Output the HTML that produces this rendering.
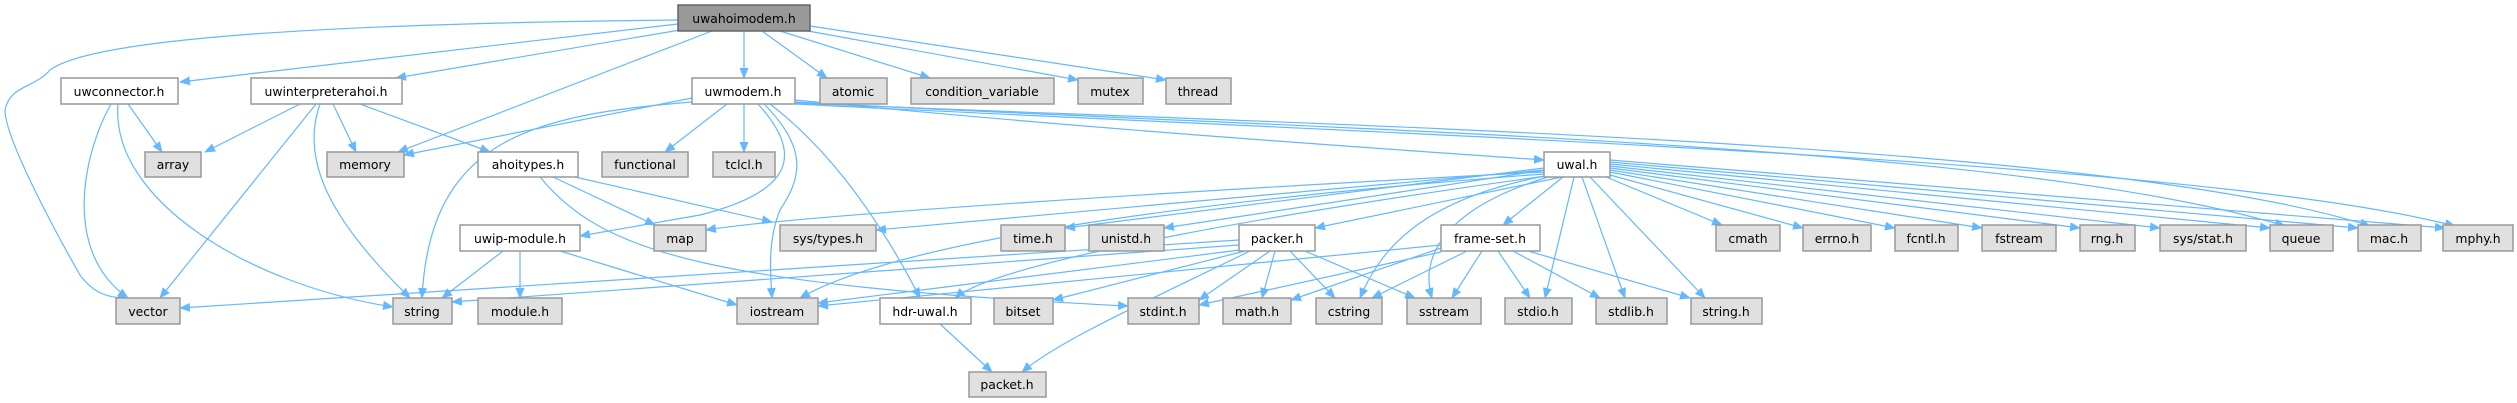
<!DOCTYPE html>
<html><head><meta charset="utf-8"><style>
html,body{margin:0;padding:0;background:#fff;}
svg{display:block;}
text{font-family:"DejaVu Sans","Liberation Sans",sans-serif;font-size:12.4px;fill:#000;text-anchor:middle;}
.e{fill:none;stroke:#63b8ff;stroke-width:1.2;marker-end:url(#a);}
.n{fill:#fff;stroke:#999;stroke-width:1.5;}
.g{fill:#e0e0e0;stroke:#999;stroke-width:1.5;}
.r{fill:#999;stroke:#666;stroke-width:1.5;}
</style></head><body>
<svg width="2517" height="403" viewBox="0 0 2517 403" xmlns="http://www.w3.org/2000/svg">
<defs><marker id="a" markerWidth="11" markerHeight="9" refX="10" refY="4.5" orient="auto" markerUnits="userSpaceOnUse"><path d="M0,0 L11,4.5 L0,9z" fill="#63b8ff"/></marker></defs>
<g>
<path class="e" d="M678,20 C300,24 90,40 50,70 C35,88 10,85 5,110 C5,140 60,240 80,275 C95,295 110,298 128,298"/>
<path class="e" d="M678,24 L180,82"/>
<path class="e" d="M680,30 L396,78"/>
<path class="e" d="M712,31 L398,152"/>
<path class="e" d="M744,31 L744,78"/>
<path class="e" d="M762,31 L827,78"/>
<path class="e" d="M780,31 L930,78"/>
<path class="e" d="M808,31 L1078,80"/>
<path class="e" d="M810,26 L1166,80"/>
<path class="e" d="M128,104 L162,152"/>
<path class="e" d="M111,104 C85,150 60,250 128,298"/>
<path class="e" d="M118,104 C110,200 250,285 393,307"/>
<path class="e" d="M300,104 L205,152"/>
<path class="e" d="M333,104 L356,152"/>
<path class="e" d="M360,104 L490,152"/>
<path class="e" d="M316,104 L160,298"/>
<path class="e" d="M320,104 C300,160 330,220 410,298"/>
<path class="e" d="M553,177 L655,225"/>
<path class="e" d="M575,177 L772,222"/>
<path class="e" d="M540,177 C600,250 700,285 1128,306"/>
<path class="e" d="M692,98 L404,155"/>
<path class="e" d="M692,102 C530,115 430,140 422,298"/>
<path class="e" d="M727,104 L665,152"/>
<path class="e" d="M744,104 L744,152"/>
<path class="e" d="M758,104 C800,150 800,190 700,215 L580,236"/>
<path class="e" d="M764,104 C810,150 800,180 780,210 C768,240 770,270 772,298"/>
<path class="e" d="M770,104 C830,150 880,220 920,298"/>
<path class="e" d="M795,100 C1100,130 1400,150 1544,160"/>
<path class="e" d="M795,102 C1300,130 2000,140 2285,226"/>
<path class="e" d="M795,103 C1300,125 2100,140 2370,226"/>
<path class="e" d="M795,104 C1400,135 2200,160 2455,226"/>
<path class="e" d="M503,251 L442,298"/>
<path class="e" d="M520,251 L520,298"/>
<path class="e" d="M560,251 L737,305"/>
<path class="e" d="M1544,172 C1200,190 800,215 706,230"/>
<path class="e" d="M1544,170 L876,230"/>
<path class="e" d="M1544,168 L1065,228"/>
<path class="e" d="M1545,170 L1164,228"/>
<path class="e" d="M1562,177 L1315,228"/>
<path class="e" d="M1563,177 L1503,225"/>
<path class="e" d="M1606,177 L1722,225"/>
<path class="e" d="M1610,175 L1803,228"/>
<path class="e" d="M1610,172 L1895,228"/>
<path class="e" d="M1610,170 L1982,228"/>
<path class="e" d="M1610,168 L2080,228"/>
<path class="e" d="M1610,166 L2160,228"/>
<path class="e" d="M1610,164 L2270,228"/>
<path class="e" d="M1610,162 L2358,228"/>
<path class="e" d="M1610,160 L2445,228"/>
<path class="e" d="M1544,174 C1200,200 900,240 800,298"/>
<path class="e" d="M1546,176 C1300,210 1000,260 955,298"/>
<path class="e" d="M1545,176 C1420,200 1380,250 1360,298"/>
<path class="e" d="M1548,177 C1440,210 1420,260 1432,298"/>
<path class="e" d="M1574,177 L1545,298"/>
<path class="e" d="M1582,177 L1625,298"/>
<path class="e" d="M1590,177 L1705,298"/>
<path class="e" d="M1239,240 L180,308"/>
<path class="e" d="M1239,245 L452,302"/>
<path class="e" d="M1240,250 L818,303"/>
<path class="e" d="M1245,251 L1053,300"/>
<path class="e" d="M1270,251 L1199,300"/>
<path class="e" d="M1275,251 L1262,298"/>
<path class="e" d="M1290,251 L1335,298"/>
<path class="e" d="M1305,251 L1415,298"/>
<path class="e" d="M1250,251 C1150,300 1060,340 1022,372"/>
<path class="e" d="M1441,245 L818,306"/>
<path class="e" d="M1441,248 L1291,300"/>
<path class="e" d="M1441,252 L1199,305"/>
<path class="e" d="M1467,251 L1372,298"/>
<path class="e" d="M1482,251 L1452,298"/>
<path class="e" d="M1498,251 L1530,298"/>
<path class="e" d="M1513,251 L1600,298"/>
<path class="e" d="M1528,251 L1690,298"/>
<path class="e" d="M940,324 L992,372"/>
</g>
<g>
<rect class="r" x="678" y="5" width="132" height="26"/><text x="744" y="23">uwahoimodem.h</text>
<rect class="n" x="61" y="78" width="117" height="26"/><text x="119" y="96">uwconnector.h</text>
<rect class="n" x="251" y="78" width="151" height="26"/><text x="326" y="96">uwinterpreterahoi.h</text>
<rect class="n" x="692" y="78" width="103" height="26"/><text x="743" y="96">uwmodem.h</text>
<rect class="g" x="820" y="78" width="67" height="26"/><text x="853" y="96">atomic</text>
<rect class="g" x="911" y="78" width="143" height="26"/><text x="982" y="96">condition_variable</text>
<rect class="g" x="1078" y="78" width="65" height="26"/><text x="1110" y="96">mutex</text>
<rect class="g" x="1166" y="78" width="65" height="26"/><text x="1198" y="96">thread</text>

<rect class="g" x="145" y="152" width="56" height="25"/><text x="173" y="169">array</text>
<rect class="g" x="327" y="152" width="77" height="25"/><text x="365" y="169">memory</text>
<rect class="n" x="478" y="152" width="100" height="25"/><text x="528" y="169">ahoitypes.h</text>
<rect class="g" x="602" y="152" width="86" height="25"/><text x="645" y="169">functional</text>
<rect class="g" x="713" y="152" width="62" height="25"/><text x="744" y="169">tclcl.h</text>
<rect class="n" x="1544" y="152" width="66" height="25"/><text x="1577" y="169">uwal.h</text>

<rect class="n" x="460" y="225" width="120" height="26"/><text x="520" y="243">uwip-module.h</text>
<rect class="g" x="654" y="225" width="52" height="26"/><text x="680" y="243">map</text>
<rect class="g" x="780" y="225" width="96" height="26"/><text x="828" y="243">sys/types.h</text>
<rect class="g" x="1001" y="225" width="64" height="26"/><text x="1033" y="243">time.h</text>
<rect class="g" x="1089" y="225" width="75" height="26"/><text x="1126" y="243">unistd.h</text>
<rect class="n" x="1239" y="225" width="76" height="26"/><text x="1277" y="243">packer.h</text>
<rect class="n" x="1441" y="225" width="99" height="26"/><text x="1490" y="243">frame-set.h</text>
<rect class="g" x="1716" y="225" width="64" height="26"/><text x="1748" y="243">cmath</text>
<rect class="g" x="1803" y="225" width="68" height="26"/><text x="1837" y="243">errno.h</text>
<rect class="g" x="1895" y="225" width="63" height="26"/><text x="1926" y="243">fcntl.h</text>
<rect class="g" x="1982" y="225" width="74" height="26"/><text x="2019" y="243">fstream</text>
<rect class="g" x="2080" y="225" width="55" height="26"/><text x="2107" y="243">rng.h</text>
<rect class="g" x="2160" y="225" width="86" height="26"/><text x="2203" y="243">sys/stat.h</text>
<rect class="g" x="2270" y="225" width="63" height="26"/><text x="2301" y="243">queue</text>
<rect class="g" x="2358" y="225" width="63" height="26"/><text x="2389" y="243">mac.h</text>
<rect class="g" x="2443" y="225" width="70" height="26"/><text x="2478" y="243">mphy.h</text>

<rect class="g" x="116" y="298" width="64" height="26"/><text x="148" y="316">vector</text>
<rect class="g" x="393" y="298" width="59" height="26"/><text x="422" y="316">string</text>
<rect class="g" x="478" y="298" width="84" height="26"/><text x="520" y="316">module.h</text>
<rect class="g" x="737" y="298" width="81" height="26"/><text x="777" y="316">iostream</text>
<rect class="n" x="880" y="298" width="91" height="26"/><text x="925" y="316">hdr-uwal.h</text>
<rect class="g" x="994" y="298" width="59" height="26"/><text x="1023" y="316">bitset</text>
<rect class="g" x="1128" y="298" width="71" height="26"/><text x="1163" y="316">stdint.h</text>
<rect class="g" x="1223" y="298" width="68" height="26"/><text x="1257" y="316">math.h</text>
<rect class="g" x="1316" y="298" width="66" height="26"/><text x="1349" y="316">cstring</text>
<rect class="g" x="1407" y="298" width="74" height="26"/><text x="1444" y="316">sstream</text>
<rect class="g" x="1505" y="298" width="67" height="26"/><text x="1538" y="316">stdio.h</text>
<rect class="g" x="1596" y="298" width="71" height="26"/><text x="1631" y="316">stdlib.h</text>
<rect class="g" x="1691" y="298" width="71" height="26"/><text x="1726" y="316">string.h</text>

<rect class="g" x="969" y="372" width="77" height="25"/><text x="1007" y="389">packet.h</text>
</g>
</svg>
</body></html>
